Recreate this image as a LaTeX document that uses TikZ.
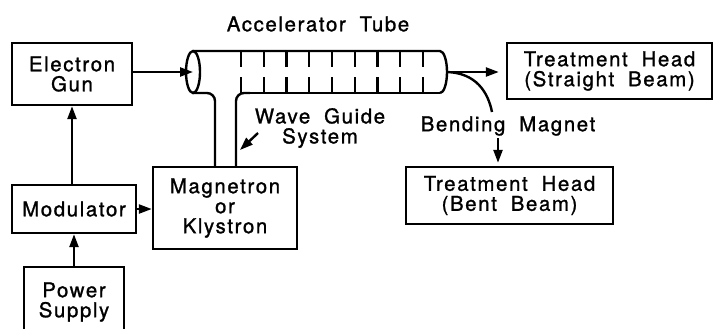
\documentclass[tikz,border=0pt]{standalone}
\usepackage{fontspec}
\setmainfont{TeX Gyre Heros}[LetterSpace=8, WordSpace=1.9, FakeBold=1.2]
\usetikzlibrary{arrows.meta}

\tikzset{
    blk/.style={draw, line width=1.2pt, align=center, inner sep=0pt},
    tube/.style={line width=1.2pt},
    arr/.style={line width=1.2pt, -{Triangle[length=6.5pt, width=4.5pt]}},
    lbl/.style={align=center, inner sep=1pt},
}

\begin{document}
\begin{tikzpicture}[x=0.5pt, y=-0.5pt, font=\fontsize{10.2}{10}\selectfont]
    \clip (0,0) rectangle (715,328);
    \useasboundingbox (0,0) rectangle (715,328);

    % Boxes
    \node[blk, minimum width=60pt, minimum height=31pt] (gun) at (72,74) {Electron\\Gun};
    \node[blk, minimum width=62pt, minimum height=24pt] (mod) at (74,209) {Modulator};
    \node[blk, minimum width=50pt, minimum height=35pt] (psu) at (74,302) {Power\\Supply};
    \node[blk, minimum width=72pt, minimum height=41pt] (mag) at (225,208) {Magnetron\\or\\Klystron};
    \node[blk, minimum width=102.5pt, minimum height=28pt] (straight) at (609.5,71) {Treatment Head\\(Straight Beam)};
    \node[blk, minimum width=103.5pt, minimum height=28.5pt] (bent) at (509.5,195.5) {Treatment Head\\(Bent Beam)};

    % Labels
    \node[lbl] (tubelbl) at (318,24) {Accelerator Tube};
    \node[lbl] (wglbl) at (320,128) {Wave Guide\\System};
    \node[lbl] (bendlbl) at (508,126) {Bending Magnet};

    % Accelerator tube
    \coordinate (tubein) at (193,72);
    \coordinate (tubeout) at (447,72);
    \draw[tube] (tubein) ellipse [x radius=7, y radius=21];
    \draw[tube] (193,51) -- (440,51) arc[start angle=-90, end angle=90, x radius=7, y radius=21];
    \draw[tube] (440,93) -- (244,93);
    \foreach \i in {0,...,8} {
        \draw[tube] (241+22.75*\i,51) -- (241+22.75*\i,67);
        \draw[tube] (241+22.75*\i,77) -- (241+22.75*\i,93);
    }

    % Wave guide
    \coordinate (wgL) at (215,0);
    \coordinate (wgR) at (236,0);
    \draw[tube, rounded corners=4pt] (193,93) -- (215,93) -- (mag.north -| wgL);
    \draw[tube, rounded corners=4pt] (250,93) -- (236,93) -- (mag.north -| wgR);
    \coordinate (wgtail) at (258,133);
    \coordinate (wgtip) at (240,150);
    \draw[arr] (wgtail) -- (wgtip);

    % Connections
    \draw[arr] (gun.east |- tubein) -- (tubein);
    \draw[arr] (mod.north -| gun.south) -- (gun.south);
    \draw[arr] (psu.north) -- (psu.north |- mod.south);
    \draw[arr] (mod.east) -- (mod.east -| mag.west);
    \draw[arr, shorten >=3.5pt] (tubeout) -- (tubeout -| straight.west);

    % Bent beam
    \coordinate (bendend) at (492,112);
    \coordinate (bendx) at (498,0);
    \draw[tube] (tubeout) .. controls (476,73) and (488,92) .. (bendend);
    \draw[arr, shorten >=1.5pt] (bendlbl.south -| bendx) -- (bent.north -| bendx);
\end{tikzpicture}
\end{document}
